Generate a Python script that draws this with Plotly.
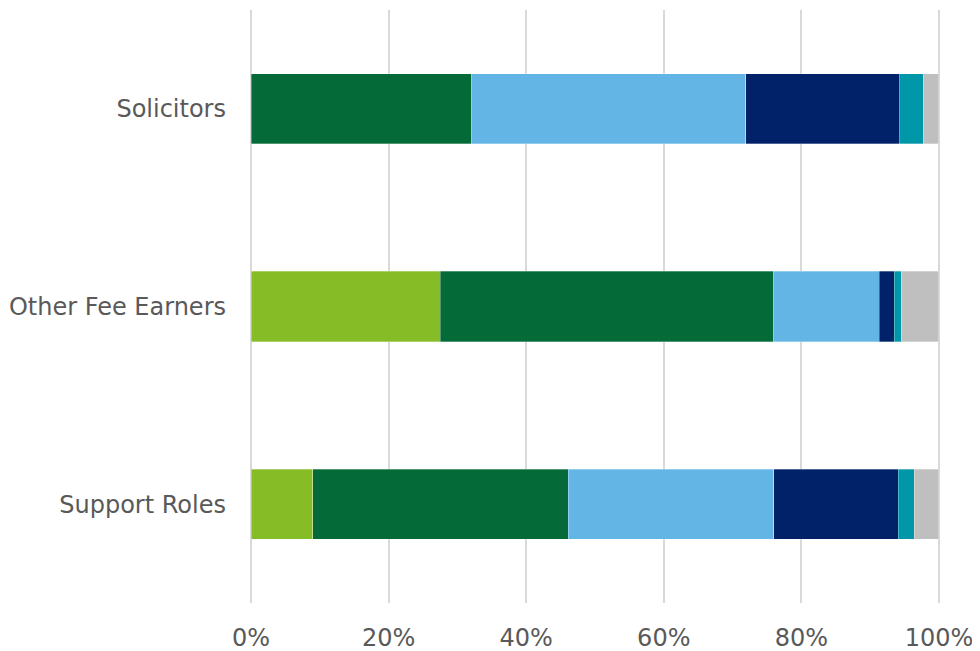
import plotly.graph_objects as go

roles = ['Solicitors', 'Other Fee Earners', 'Support Roles']
series_names = ['Group 1', 'Group 2', 'Group 3', 'Group 4', 'Group 5', 'Group 6']
group1 = [0.0, 27.5, 9.0]
group2 = [32.0, 48.4, 37.1]
group3 = [39.9, 15.4, 29.9]
group4 = [22.4, 2.2, 18.1]
group5 = [3.4, 1.0, 2.3]
group6 = [2.3, 5.5, 3.6]
tick_vals = [0, 20, 40, 60, 80, 100]
tick_text = ['0%', '20%', '40%', '60%', '80%', '100%']

colors = ['#86BC25', '#046A38', '#62B5E5', '#012169', '#0097A9', '#BFBFBF']
values = [group1, group2, group3, group4, group5, group6]

fig = go.Figure()
for name, vals, col in zip(series_names, values, colors):
    fig.add_trace(go.Bar(
        y=roles, x=vals, name=name, orientation='h',
        marker=dict(color=col, line=dict(color='rgba(255,255,255,0.6)', width=0.5)),
        width=0.355,
    ))

# page body has an 8px margin, so margins are shifted to compensate
fig.update_layout(
    barmode='stack',
    width=980, height=651,
    margin=dict(l=242, r=48, t=2, b=56),
    plot_bgcolor='white', paper_bgcolor='white',
    showlegend=False,
    font=dict(family='DejaVu Sans, Verdana, sans-serif', size=24, color='#595959'),
)
# small padding on the range so the 0% and 100% gridlines are drawn
fig.update_xaxes(
    range=[-0.15, 100.15], tickvals=tick_vals, ticktext=tick_text,
    showgrid=True, gridcolor='#D9D9D9', gridwidth=2,
    zeroline=False, showline=False, ticklabelstandoff=18,
)
fig.update_yaxes(
    categoryorder='array', categoryarray=roles[::-1],
    showgrid=False, zeroline=False, showline=False,
    ticklabelstandoff=23,
)

fig.write_html("out.html")
